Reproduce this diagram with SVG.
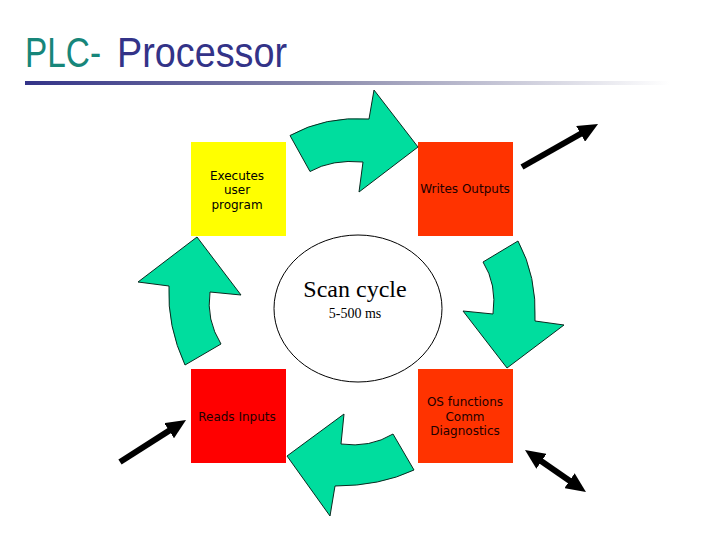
<svg xmlns="http://www.w3.org/2000/svg" width="720" height="540" viewBox="0 0 720 540">
<style>
.box-text{font-family:"DejaVu Sans",Verdana,sans-serif;font-size:12px;text-anchor:middle;fill:#220000}
.cycle{fill:#00dd9e;stroke:#0a2a20;stroke-width:1}
.io{stroke:#000;stroke-width:6;fill:none}
.serif{font-family:"Liberation Serif","Times New Roman",serif;text-anchor:middle;fill:#000}
.title{font-family:"Liberation Sans",Tahoma,sans-serif;font-size:42px}
</style>
<defs>
<linearGradient id="rule" x1="0" y1="0" x2="1" y2="0">
<stop offset="0" stop-color="#333388"/>
<stop offset="0.45" stop-color="#8888aa"/>
<stop offset="1" stop-color="#ffffff"/>
</linearGradient>
<marker id="head" markerUnits="userSpaceOnUse" markerWidth="20" markerHeight="18" viewBox="0 0 20 18" refX="8" refY="9" orient="auto-start-reverse">
<path d="M0,0 L20,9 L0,18 Z" fill="#000"/>
</marker>
</defs>
<rect width="720" height="540" fill="#fff"/>
<g id="title">
<text class="title" x="25" y="67" fill="#17867a" textLength="76" lengthAdjust="spacingAndGlyphs">PLC-</text>
<text class="title" x="117" y="67" fill="#333388" textLength="170" lengthAdjust="spacingAndGlyphs">Processor</text>
<rect x="25" y="81" width="645" height="4" fill="url(#rule)"/>
</g>
<g id="scan-cycle">
<ellipse cx="358" cy="308.5" rx="84" ry="73.5" fill="#fff" stroke="#000" stroke-width="1"/>
<text class="serif" x="355" y="297" font-size="24">Scan cycle</text>
<text class="serif" x="355" y="318" font-size="14">5-500 ms</text>
</g>
<g id="executes">
<rect x="191" y="142" width="95" height="94" fill="#ffff00"/>
<text class="box-text" x="237" y="179.5" style="fill:#000">Executes</text>
<text class="box-text" x="237" y="194" style="fill:#000">user</text>
<text class="box-text" x="237" y="208.5" style="fill:#000">program</text>
</g>
<g id="writes">
<rect x="418" y="142" width="95" height="94" fill="#ff3300"/>
<text class="box-text" x="465" y="193">Writes Outputs</text>
</g>
<g id="reads">
<rect x="191" y="369" width="95" height="94" fill="#ff0000"/>
<text class="box-text" x="237" y="421">Reads Inputs</text>
</g>
<g id="os">
<rect x="418" y="369" width="95" height="94" fill="#ff3300"/>
<text class="box-text" x="465" y="406">OS functions</text>
<text class="box-text" x="465" y="420.5">Comm</text>
<text class="box-text" x="465" y="435">Diagnostics</text>
</g>
<g id="connectors">
<path class="cycle" d="M290,135.5 Q325,116 369,119 L374,90 L418,147 L359,192 L363,162 Q332,159 310,171.5 Z"/>
<path class="cycle" d="M483,262 L518,241 Q537,276 535,321 L564,325 L507,368 L463,311 L493,314 Q497,284 483,262 Z"/>
<path class="cycle" d="M393,434 L414,470 Q380,486 335,486 L330,516 L287,456 L344,414 L341,444 Q370,448 393,434 Z"/>
<path class="cycle" d="M197,237 L241,295 L210,292 Q206,320 221,344 L185,365 Q167,326 169,286 L138,282 Z"/>
<line class="io" x1="522" y1="167" x2="587.6" y2="129.9" marker-end="url(#head)"/>
<line class="io" x1="120" y1="462" x2="175.9" y2="426.4" marker-end="url(#head)"/>
<line class="io" x1="534.9" y1="456.8" x2="576.1" y2="485.2" marker-start="url(#head)" marker-end="url(#head)"/>
</g>
</svg>
